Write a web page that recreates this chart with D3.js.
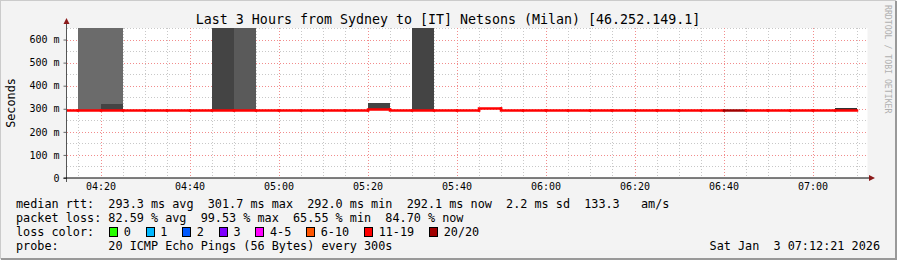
<!DOCTYPE html>
<html>
<head>
<meta charset="utf-8">
<script src="https://cdn.jsdelivr.net/npm/d3@7"></script>
<style>
  body { margin: 0; background: #f3f3f3; }
  svg text { font-family: "DejaVu Sans Mono", monospace; fill: #000; }
</style>
</head>
<body>
<div id="chart"></div>
<script>
// interval start times (5 min steps) and the median rtt (ms) of each
var intervalStart = ["04:10","04:15","04:20","04:25","04:30","04:35","04:40","04:45","04:50","04:55",
                     "05:00","05:05","05:10","05:15","05:20","05:25","05:30","05:35","05:40","05:45",
                     "05:50","05:55","06:00","06:05","06:10","06:15","06:20","06:25","06:30","06:35",
                     "06:40","06:45","06:50","06:55","07:00","07:05"];
var medianRtt = [293.1, 293.0, 293.2, 293.0, 293.1, 293.0, 293.2, 293.0, 293.1, 293.0,
                 293.0, 293.1, 293.0, 293.1, 299.0, 292.9, 293.0, 293.1, 293.0, 301.7,
                 292.8, 292.9, 293.0, 292.9, 293.0, 292.8, 292.9, 293.0, 292.8, 292.9,
                 292.8, 292.7, 292.8, 292.7, 292.6, 292.6];
// pings lost out of 20 in each interval
var lostPings = [16, 17, 15, 16, 17, 16, 15, 18, 17, 16,
                 16, 17, 16, 15, 14, 16, 18, 17, 16, 13,
                 16, 17, 16, 17, 16, 17, 16, 17, 16, 17,
                 20, 17, 16, 17, 16, 15];

// smoke (spread of ping times), one entry per layer
var smokeStart = ["04:15", "04:20", "04:20", "04:45", "04:50", "05:20", "05:30", "07:05"];
var smokeLow   = [293, 293, 321, 293, 293, 293, 293, 293];
var smokeHigh  = [700, 321, 700, 700, 700, 325, 700, 303];
var smokeLayer = [3, 1, 3, 1, 2, 1, 1, 0];

var yTicks = [0, 100, 200, 300, 400, 500, 600];

var lossLabels = ["0", "1", "2", "3", "4-5", "6-10", "11-19", "20/20"];
var lossMax    = [0, 1, 2, 3, 5, 10, 19, 20];
var lossColors = ["#26ff00", "#00b8ff", "#0059ff", "#7e00ff", "#ff00ff", "#ff5500", "#ff0000", "#a00000"];

var legendLines = [
  "median rtt:  293.3 ms avg  301.7 ms max  292.0 ms min  292.1 ms now  2.2 ms sd  133.3   am/s",
  "packet loss: 82.59 % avg  99.53 % max  65.55 % min  84.70 % now",
  "loss color:",
  "probe:       20 ICMP Echo Pings (56 Bytes) every 300s"
];
var dateText = "Sat Jan  3 07:12:21 2026";
var titleText = "Last 3 Hours from Sydney to [IT] Netsons (Milan) [46.252.149.1]";

var W = 897, H = 260;
var plot = {left: 66.5, right: 867.5, top: 28, bottom: 178};

var parseHM = d3.timeParse("%H:%M");
var parseHMS = d3.timeParse("%H:%M:%S");
var STEP = 5 * 60 * 1000;

var x = d3.scaleTime()
  .domain([parseHMS("04:12:21"), parseHMS("07:12:21")])
  .range([plot.left, plot.right]);
var y = d3.scaleLinear().domain([0, 650]).range([plot.bottom, plot.top]);

var lossColor = d3.scaleThreshold()
  .domain(lossMax.slice(0, -1).map(function(d) { return d + 0.5; }))
  .range(lossColors);
var smokeColor = d3.scaleOrdinal().domain([0, 1, 2, 3])
  .range(["#333333", "#444444", "#5a5a5a", "#6b6b6b"]);

var svg = d3.select("#chart").append("svg")
  .attr("width", W).attr("height", H);

// background and frame
svg.append("rect").attr("width", W).attr("height", H).attr("fill", "#f3f3f3");
svg.append("path").attr("d", "M0,259V0H896").attr("fill", "none").attr("stroke", "#cbcbcb").attr("stroke-width", 2);
svg.append("path").attr("d", "M1,259H896V1").attr("fill", "none").attr("stroke", "#999").attr("stroke-width", 2);
svg.append("rect")
  .attr("x", plot.left).attr("y", plot.top)
  .attr("width", plot.right - plot.left).attr("height", plot.bottom - plot.top)
  .attr("fill", "#fff");

svg.append("clipPath").attr("id", "clip").append("rect")
  .attr("x", plot.left).attr("y", plot.top)
  .attr("width", plot.right - plot.left).attr("height", plot.bottom - plot.top);

// grid
var grid = svg.append("g").attr("shape-rendering", "crispEdges");
var minorTimes = x.ticks(d3.timeMinute.every(5));
var majorTimes = x.ticks(d3.timeMinute.every(20));
var minorVals = d3.range(50, 651, 50);

grid.selectAll(".vmin").data(minorTimes).enter().append("line")
  .attr("x1", function(d) { return Math.round(x(d)) + 0.5; })
  .attr("x2", function(d) { return Math.round(x(d)) + 0.5; })
  .attr("y1", plot.top).attr("y2", plot.bottom)
  .attr("stroke", "#c8c8c8").attr("stroke-dasharray", "1,2");
grid.selectAll(".hmin").data(minorVals).enter().append("line")
  .attr("x1", plot.left).attr("x2", plot.right)
  .attr("y1", function(d) { return Math.round(y(d)) + 0.5; })
  .attr("y2", function(d) { return Math.round(y(d)) + 0.5; })
  .attr("stroke", "#c8c8c8").attr("stroke-dasharray", "1,2");
grid.selectAll(".vmaj").data(majorTimes).enter().append("line")
  .attr("x1", function(d) { return Math.round(x(d)) + 0.5; })
  .attr("x2", function(d) { return Math.round(x(d)) + 0.5; })
  .attr("y1", plot.top).attr("y2", plot.bottom)
  .attr("stroke", "#f28c8c").attr("stroke-dasharray", "1,2");
grid.selectAll(".hmaj").data(yTicks.slice(1)).enter().append("line")
  .attr("x1", plot.left).attr("x2", plot.right)
  .attr("y1", function(d) { return Math.round(y(d)) + 0.5; })
  .attr("y2", function(d) { return Math.round(y(d)) + 0.5; })
  .attr("stroke", "#f28c8c").attr("stroke-dasharray", "1,2");

// smoke
var smoke = smokeStart.map(function(t, i) {
  return {t: parseHM(t), lo: smokeLow[i], hi: smokeHigh[i], layer: smokeLayer[i]};
});
svg.append("g").attr("clip-path", "url(#clip)").attr("shape-rendering", "crispEdges")
  .selectAll("rect").data(smoke).enter().append("rect")
  .attr("x", function(d) { return Math.round(x(d.t)); })
  .attr("width", function(d) { return Math.round(x(new Date(+d.t + STEP))) - Math.round(x(d.t)); })
  .attr("y", function(d) { return Math.round(y(d.hi)); })
  .attr("height", function(d) { return Math.round(y(d.lo)) - Math.round(y(d.hi)); })
  .attr("fill", function(d) { return smokeColor(d.layer); });

// median line, each step coloured by packet loss
var steps = intervalStart.map(function(t, i) {
  return {t0: parseHM(t), t1: new Date(+parseHM(t) + STEP), m: medianRtt[i],
          prev: i > 0 ? medianRtt[i - 1] : medianRtt[i], lost: lostPings[i]};
});
var line = d3.line()
  .x(function(d) { return Math.round(x(d[0])); })
  .y(function(d) { return Math.round(y(d[1])) + 0.5; });
svg.append("g").attr("clip-path", "url(#clip)")
  .selectAll("path").data(steps).enter().append("path")
  .attr("d", function(d) { return line([[d.t0, d.prev], [d.t0, d.m], [d.t1, d.m]]); })
  .attr("fill", "none")
  .attr("stroke-width", 2.5)
  .attr("stroke-linecap", "square")
  .attr("stroke", function(d) { return lossColor(d.lost); });

// axes
var yAxis = svg.append("g")
  .attr("transform", "translate(" + plot.left + ",0)")
  .call(d3.axisLeft(y).tickValues(yTicks).tickSize(3).tickPadding(4)
    .tickFormat(function(d) { return d === 0 ? "0" : d + " m"; }));
yAxis.select(".domain").remove();
yAxis.selectAll("line").attr("stroke", "#666");
yAxis.selectAll("text").style("font-size", "10px").attr("font-family", null);

var xAxis = svg.append("g")
  .attr("transform", "translate(0," + plot.bottom + ")")
  .call(d3.axisBottom(x).ticks(d3.timeMinute.every(20)).tickSize(0).tickPadding(5)
    .tickFormat(d3.timeFormat("%H:%M")));
xAxis.select(".domain").remove();
xAxis.selectAll("text").style("font-size", "10px").attr("font-family", null);

svg.append("line")
  .attr("x1", plot.left).attr("x2", plot.left).attr("y1", 182).attr("y2", 22)
  .attr("stroke", "#555");
svg.append("line")
  .attr("x1", plot.left - 3).attr("x2", 870).attr("y1", plot.bottom).attr("y2", plot.bottom)
  .attr("stroke", "#000");
svg.append("path").attr("d", "M" + (plot.left - 3) + ",24L" + plot.left + ",18L" + (plot.left + 3) + ",24Z")
  .attr("fill", "#8b1a1a");
svg.append("path").attr("d", "M869," + (plot.bottom - 3) + "L875," + plot.bottom + "L869," + (plot.bottom + 3) + "Z")
  .attr("fill", "#8b1a1a");

// title and labels
svg.append("text").attr("x", 448).attr("y", 23.5).attr("text-anchor", "middle")
  .style("font-size", "13.3px").text(titleText);
svg.append("text").attr("transform", "translate(14.5,103) rotate(-90)").attr("text-anchor", "middle")
  .style("font-size", "11.8px").text("Seconds");
svg.append("text").attr("transform", "translate(884.5,5) rotate(90)")
  .style("font-size", "8.2px").style("fill", "#b0b0b0").text("RRDTOOL / TOBI OETIKER");

// legend
var lineY = [208, 222, 236, 250];
var legend = svg.append("g").attr("class", "legend").style("font-size", "11.8px");
legend.selectAll("text.line").data(legendLines).enter().append("text")
  .attr("class", "line")
  .attr("x", 16).attr("y", function(d, i) { return lineY[i]; })
  .attr("xml:space", "preserve").style("white-space", "pre")
  .text(function(d) { return d; });
legend.append("text").attr("x", 880).attr("y", lineY[3]).attr("text-anchor", "end")
  .attr("xml:space", "preserve").style("white-space", "pre").text(dateText);

var cw = 7.12, sx = 109, items = [];
lossLabels.forEach(function(l, i) {
  items.push({label: l, color: lossColors[i], x: sx});
  sx += 15.2 + (l.length + 2) * cw;
});
var li = legend.selectAll("g.loss").data(items).enter().append("g").attr("class", "loss");
li.append("rect")
  .attr("x", function(d) { return Math.round(d.x) + 0.5; }).attr("y", 227.5)
  .attr("width", 8).attr("height", 9)
  .attr("fill", function(d) { return d.color; })
  .attr("stroke", "#000").attr("shape-rendering", "crispEdges");
li.append("text")
  .attr("x", function(d) { return d.x + 14.7; }).attr("y", lineY[2])
  .text(function(d) { return d.label; });
</script>
</body>
</html>
